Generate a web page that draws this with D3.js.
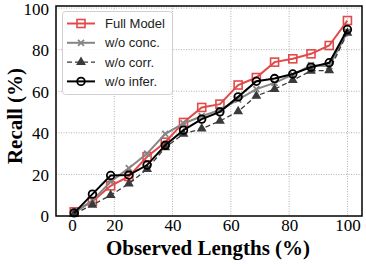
<!DOCTYPE html>
<html><head><meta charset="utf-8">
<script src="https://cdn.jsdelivr.net/npm/d3@7"></script>
<style>body{margin:0;background:#fff}svg{display:block}</style>
</head><body><svg id="c" width="366" height="264"></svg>
<script>
const observed = [6.25,12.5,18.75,25,31.25,37.5,43.75,50,56.25,62.5,68.75,75,81.25,87.5,93.75,100];
const fullModel = [2,7,14.5,19,28.5,35.5,45,52.2,53.8,63,66.6,74,75.6,78,82,94];
const woConc    = [1.5,7.5,16.5,23,30,39.5,44.5,48,51,56,61,64,68,72.5,72,88.5];
const woCorr    = [1,5.3,10,15.5,22.5,33,39.5,42,45.7,50.3,57.8,61,65.3,69.8,70,88];
const woInfer   = [1.5,10.5,19.5,19.7,24.5,34,41.3,46.6,50.1,57.3,64.8,66.1,68.3,71.6,73.7,89.7];
const seriesNames = ["Full Model","w/o conc.","w/o corr.","w/o infer."];
const xTickValues = [5.5,20,40,60,80,100];
const xTickLabels = ["0","20","40","60","80","100"];
const yTickValues = [0,20,40,60,80,100];
const xGrid = [20,40,60,80,100];
const yGrid = [20,40,60,80,100];

const svg = d3.select("#c");
const L=56, R=362, T=6, B=216;
const x = d3.scaleLinear().domain([0,105]).range([L,R]);
const y = d3.scaleLinear().domain([0,101]).range([B,T]);

// grid
svg.append("g").selectAll("line").data(xGrid).join("line")
  .attr("x1",d=>x(d)).attr("x2",d=>x(d)).attr("y1",T).attr("y2",B)
  .attr("stroke","#b0b0b0").attr("stroke-width",1).attr("stroke-dasharray","1,1.5");
svg.append("g").selectAll("line").data(yGrid).join("line")
  .attr("y1",d=>y(d)).attr("y2",d=>y(d)).attr("x1",L).attr("x2",R)
  .attr("stroke","#b0b0b0").attr("stroke-width",1).attr("stroke-dasharray","1,1.5");

// axes
const xAxis = d3.axisBottom(x).tickValues(xTickValues).tickFormat((d,i)=>xTickLabels[i]).tickSize(0).tickPadding(3);
const gx = svg.append("g").attr("transform",`translate(0,${B})`).call(xAxis);
const yAxis = d3.axisLeft(y).tickValues(yTickValues).tickFormat(d3.format("d")).tickSize(0).tickPadding(7);
const gy = svg.append("g").attr("transform",`translate(${L},0)`).call(yAxis);
[gx,gy].forEach(g=>{g.select(".domain").remove();
  g.selectAll("text").attr("font-family","'Liberation Serif','Times New Roman',serif").attr("font-size",17).attr("fill","#000");});
gy.selectAll("text").attr("dy","0.35em");
gx.selectAll("text").attr("dy","0.71em");

const series = [
  {name:seriesNames[0], vals:fullModel, color:"#e24a4a", dash:null, marker:"square", width:2},
  {name:seriesNames[1], vals:woConc, color:"#858585", dash:null, marker:"x", width:2},
  {name:seriesNames[2], vals:woCorr, color:"#3a3a3a", dash:"5,3", marker:"tri", width:1.3},
  {name:seriesNames[3], vals:woInfer, color:"#000", dash:null, marker:"circle", width:2},
];

function drawMarker(g, s, cx, cy){
  if(s.marker==="square"){
    g.append("rect").attr("x",cx-4).attr("y",cy-4).attr("width",8).attr("height",8)
      .attr("fill","none").attr("stroke",s.color).attr("stroke-width",1.6);
  } else if(s.marker==="x"){
    g.append("path").attr("d",`M${cx-3},${cy-3}L${cx+3},${cy+3}M${cx-3},${cy+3}L${cx+3},${cy-3}`)
      .attr("stroke",s.color).attr("stroke-width",1.8);
  } else if(s.marker==="tri"){
    g.append("path").attr("d",d3.symbol(d3.symbolTriangle,42)())
      .attr("transform",`translate(${cx},${cy})`).attr("fill",s.color);
  } else {
    g.append("circle").attr("cx",cx).attr("cy",cy).attr("r",3.8)
      .attr("fill","none").attr("stroke",s.color).attr("stroke-width",1.8);
  }
}

const line = d3.line().x((d,i)=>x(observed[i])).y(d=>y(d));
series.forEach(s=>{
  const g = svg.append("g");
  g.append("path").datum(s.vals).attr("d",line).attr("fill","none")
    .attr("stroke",s.color).attr("stroke-width",s.width).attr("stroke-dasharray",s.dash);
  s.vals.forEach((v,i)=>drawMarker(g,s,x(observed[i]),y(v)));
});

// frame
svg.append("rect").attr("x",L).attr("y",T).attr("width",R-L).attr("height",B-T)
  .attr("fill","none").attr("stroke","#000").attr("stroke-width",1.5);

// legend
const lg = svg.append("g");
lg.append("rect").attr("x",62.5).attr("y",11.5).attr("width",110).attr("height",83).attr("rx",3)
  .attr("fill","#fff").attr("fill-opacity",0.85).attr("stroke","#d0d0d0").attr("stroke-width",1);
series.forEach((s,i)=>{
  const yy = 23.5 + i*19.3;
  lg.append("line").attr("x1",67).attr("x2",95).attr("y1",yy).attr("y2",yy)
    .attr("stroke",s.color).attr("stroke-width",s.width).attr("stroke-dasharray",s.dash);
  drawMarker(lg,s,81,yy);
  lg.append("text").attr("x",105).attr("y",yy).attr("dy","0.35em")
    .attr("font-family","'Liberation Sans',Arial,sans-serif").attr("font-size",13).attr("fill","#222").text(s.name);
});

// axis titles
svg.append("text").attr("x",208).attr("y",255).attr("text-anchor","middle")
  .attr("font-family","'Liberation Serif','Times New Roman',serif").attr("font-weight","bold").attr("font-size",21)
  .text("Observed Lengths (%)");
svg.append("text").attr("transform","translate(22,116) rotate(-90)").attr("text-anchor","middle")
  .attr("font-family","'Liberation Serif','Times New Roman',serif").attr("font-weight","bold").attr("font-size",21)
  .text("Recall (%)");
</script></body></html>
